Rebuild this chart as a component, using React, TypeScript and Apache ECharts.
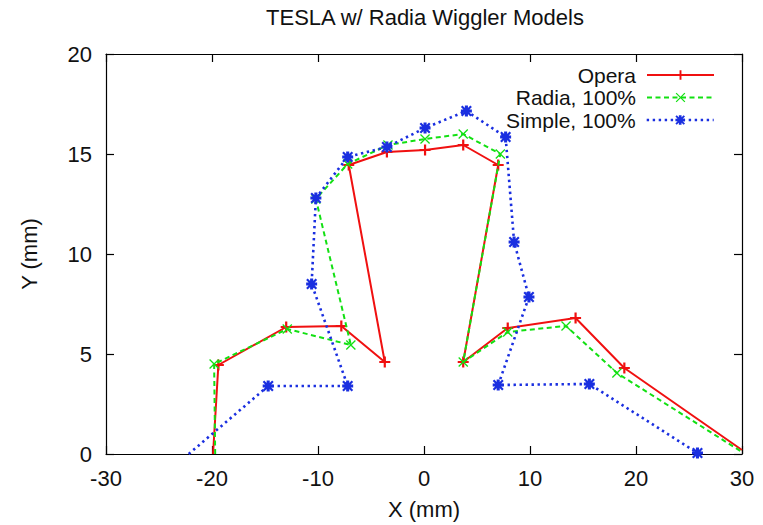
import React, { useEffect, useRef } from 'react';
import * as echarts from 'echarts';

const TITLE = 'TESLA w/ Radia Wiggler Models';
const X_NAME = 'X (mm)';
const Y_NAME = 'Y (mm)';
const X_MIN = -30;
const X_MAX = 30;
const X_STEP = 10;
const Y_MIN = 0;
const Y_MAX = 20;
const Y_STEP = 5;

const SERIES_NAMES = ['Opera', 'Radia, 100%', 'Simple, 100%'];

const operaX = [-19.9, -19.4, -13.0, -7.8, -3.7, -7.1, -3.5, 0.1, 3.7, 7.0, 3.7, 7.9, 14.3, 18.9, 30.0];
const operaY = [0.0, 4.45, 6.35, 6.4, 4.6, 14.45, 15.1, 15.2, 15.45, 14.45, 4.6, 6.3, 6.8, 4.3, 0.2];

const radiaX = [-19.7, -19.8, -12.9, -6.9, -10.2, -7.2, -3.4, 0.1, 3.7, 7.2, 3.7, 7.9, 13.4, 18.2, 30.0];
const radiaY = [0.0, 4.5, 6.25, 5.45, 12.75, 14.5, 15.45, 15.75, 16.0, 15.0, 4.6, 6.1, 6.4, 4.05, 0.1];

const simpleX = [-22.2, -14.7, -7.2, -10.6, -10.2, -7.2, -3.5, 0.1, 4.0, 7.7, 8.5, 9.9, 7.0, 15.6, 25.8];
const simpleY = [0.0, 3.4, 3.4, 8.5, 12.8, 14.85, 15.35, 16.3, 17.15, 15.85, 10.6, 7.85, 3.45, 3.5, 0.05];

// indices of points whose marker is not visible in the reference (line ends on the border)
const operaHidden = [0, 14];
const radiaHidden = [0, 14];
const simpleHidden = [0];

const FONT = 'Liberation Sans';
const TEXT_COLOR = '#111';

const PLUS = 'path://M0,4H10V6H0ZM4,0H6V10H4Z';
const CROSS = 'path://M0.9,0L10,9.1L9.1,10L0,0.9ZM9.1,0L10,0.9L0.9,10L0,9.1Z';
const STAR =
  'path://M0,3.6H10V6.4H0ZM3.6,0H6.4V10H3.6ZM1.4,0L10,8.6L8.6,10L0,1.4ZM8.6,0L10,1.4L1.4,10L0,8.6Z';

function buildData(xs: number[], ys: number[], hidden: number[]) {
  return xs.map((x, i) =>
    hidden.includes(i) ? { value: [x, ys[i]], symbol: 'none' } : { value: [x, ys[i]] }
  );
}

export default function App() {
  const ref = useRef<HTMLDivElement>(null);

  useEffect(() => {
    if (!ref.current) return;
    const chart = echarts.init(ref.current, null, { renderer: 'svg' });

    const styles = [
      { color: '#f01010', width: 2, type: 'solid' as any, symbol: PLUS, size: 11 },
      { color: '#12e012', width: 2, type: [5, 3.5] as any, symbol: CROSS, size: 10 },
      { color: '#1a2fe0', width: 2.6, type: [2.4, 3.6] as any, symbol: STAR, size: 11 },
    ];
    const datas = [
      buildData(operaX, operaY, operaHidden),
      buildData(radiaX, radiaY, radiaHidden),
      buildData(simpleX, simpleY, simpleHidden),
    ];
    const legendTops = [64.5, 87, 109.5];

    const axisCommon = {
      axisLine: { show: true, onZero: false, lineStyle: { color: '#000', width: 1.2 } },
      axisTick: { show: true, inside: true, length: 8, lineStyle: { color: '#000', width: 1.2 } },
      splitLine: { show: false },
    };

    const option: any = {
      animation: false,
      backgroundColor: '#fff',
      title: {
        text: TITLE,
        left: 425,
        top: 6,
        padding: 0,
        textAlign: 'center',
        textStyle: { fontFamily: FONT, fontSize: 22, fontWeight: 'normal', color: TEXT_COLOR },
      },
      legend: SERIES_NAMES.map((name, i) => ({
        data: [name],
        orient: 'vertical',
        align: 'right',
        right: 48,
        top: legendTops[i],
        padding: 0,
        itemGap: 0,
        itemWidth: 67,
        itemHeight: 12,
        selectedMode: false,
        lineStyle: { width: styles[i].width },
        textStyle: {
          fontFamily: FONT,
          fontSize: 21,
          lineHeight: 20,
          color: TEXT_COLOR,
          padding: [0, 6, 0, 0],
        },
      })),
      grid: { left: 106, right: 21, top: 54, bottom: 67, containLabel: false },
      xAxis: [
        {
          type: 'value',
          min: X_MIN,
          max: X_MAX,
          interval: X_STEP,
          position: 'bottom',
          name: X_NAME,
          nameLocation: 'middle',
          nameGap: 44,
          nameTextStyle: { fontFamily: FONT, fontSize: 22, color: TEXT_COLOR },
          axisLabel: { fontFamily: FONT, fontSize: 22, color: TEXT_COLOR, margin: 13 },
          ...axisCommon,
        },
        {
          type: 'value',
          min: X_MIN,
          max: X_MAX,
          interval: X_STEP,
          position: 'top',
          axisLabel: { show: false },
          ...axisCommon,
        },
      ],
      yAxis: [
        {
          type: 'value',
          min: Y_MIN,
          max: Y_MAX,
          interval: Y_STEP,
          position: 'left',
          name: Y_NAME,
          nameLocation: 'middle',
          nameGap: 66,
          nameRotate: 90,
          nameTextStyle: { fontFamily: FONT, fontSize: 22, color: TEXT_COLOR },
          axisLabel: { fontFamily: FONT, fontSize: 22, color: TEXT_COLOR, margin: 14 },
          ...axisCommon,
        },
        {
          type: 'value',
          min: Y_MIN,
          max: Y_MAX,
          interval: Y_STEP,
          position: 'right',
          axisLabel: { show: false },
          ...axisCommon,
        },
      ],
      series: SERIES_NAMES.map((name, i) => ({
        name,
        type: 'line',
        xAxisIndex: 0,
        yAxisIndex: 0,
        data: datas[i],
        symbol: styles[i].symbol,
        symbolSize: styles[i].size,
        showAllSymbol: true,
        clip: true,
        lineStyle: { color: styles[i].color, width: styles[i].width, type: styles[i].type },
        itemStyle: { color: styles[i].color, borderWidth: 0 },
        emphasis: { disabled: true },
        z: 2 + i,
      })),
    };

    chart.setOption(option);
    return () => chart.dispose();
  }, []);

  return (
    <div
      ref={ref}
      style={{ position: 'absolute', left: 0, top: 0, width: 763, height: 525 }}
    />
  );
}
